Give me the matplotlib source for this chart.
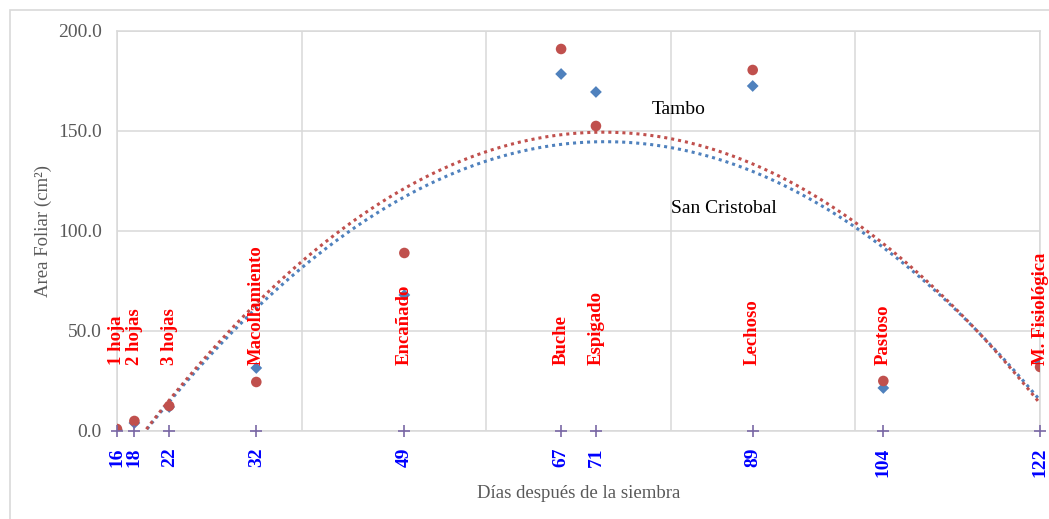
import numpy as np
import matplotlib
matplotlib.use("Agg")
from matplotlib import pyplot as plt
from matplotlib.patches import Rectangle

plt.rcParams['font.family'] = ['Liberation Serif', 'DejaVu Serif']

# datos
dias = [16, 18, 22, 32, 49, 67, 71, 89, 104, 122]
etapas = ['1 hoja', '2 hojas', '3 hojas', 'Macollamiento', 'Encañado', 'Buche',
          'Espigado', 'Lechoso', 'Pastoso', 'M. Fisiológica']
san_cristobal = [0.5, 4.0, 12.0, 31.5, 68.0, 178.5, 169.5, 172.5, 21.5, 34.0]
tambo = [1.0, 5.0, 12.5, 24.5, 89.0, 191.0, 152.5, 180.5, 25.0, 32.0]

azul = '#4f81bd'
rojo = '#c0504d'

fig = plt.figure(figsize=(10.49, 5.19), dpi=100)
ax = fig.add_axes([0.1115, 0.1696, 0.8800, 0.7707])

# borde exterior
fig.patches.append(Rectangle((10/1049, -0.01), 1.1, 1 - 10/519 + 0.01,
                             transform=fig.transFigure, fill=False,
                             edgecolor='#d9d9d9', linewidth=1.2))

# lineas de tendencia (polinomica orden 2)
xx = np.linspace(16, 122, 400)
for y, c in [(san_cristobal, azul), (tambo, rojo)]:
    p = np.polyfit(dias, y, 2)
    ax.plot(xx, np.polyval(p, xx), linestyle=(0, (1, 1.3)), color=c, linewidth=2.2, zorder=2)

ax.scatter(dias, san_cristobal, marker='D', s=36, color=azul, zorder=3, edgecolors='none')
ax.scatter(dias, tambo, marker='o', s=58, color=rojo, zorder=4, edgecolors='none')
ax.plot(dias, [0] * len(dias), linestyle='none', marker='+', markersize=8,
        color='#7a68a6', markeredgewidth=1.2, zorder=5, clip_on=False)

for d, e in zip(dias, etapas):
    ax.text(d, 33, e, rotation=90, ha='center', va='bottom', color='red',
            fontsize=13.5, fontweight='bold', zorder=6)

ax.text(77.4, 160.5, 'Tambo', fontsize=14, ha='left', va='center')
ax.text(79.6, 111, 'San Cristobal', fontsize=14, ha='left', va='center')

ax.set_xlim(16, 122)
ax.set_ylim(0, 200)
ax.set_xticks(dias)
ax.set_xticklabels([str(d) for d in dias], rotation=90, color='blue',
                   fontweight='bold', fontsize=14)
ax.set_yticks(np.arange(0, 201, 50))
ax.set_yticklabels(['%.1f' % v for v in np.arange(0, 201, 50)], color='#595959', fontsize=14)
ax.tick_params(axis='x', length=0, pad=12)
ax.tick_params(axis='y', length=0, pad=11)

for v in np.linspace(16, 122, 6):
    ax.axvline(v, color='#d9d9d9', linewidth=1.1, zorder=0)
for v in np.arange(0, 201, 50):
    ax.axhline(v, color='#d9d9d9', linewidth=1.1, zorder=0)
for s in ax.spines.values():
    s.set_color('#d9d9d9')
    s.set_linewidth(1.1)

ax.set_xlabel('Días después de la siembra', color='#595959', fontsize=13.5, labelpad=6)
ax.set_ylabel('Area Foliar (cm²)', color='#595959', fontsize=13.5, labelpad=4)

plt.savefig('out.png', dpi=100)
